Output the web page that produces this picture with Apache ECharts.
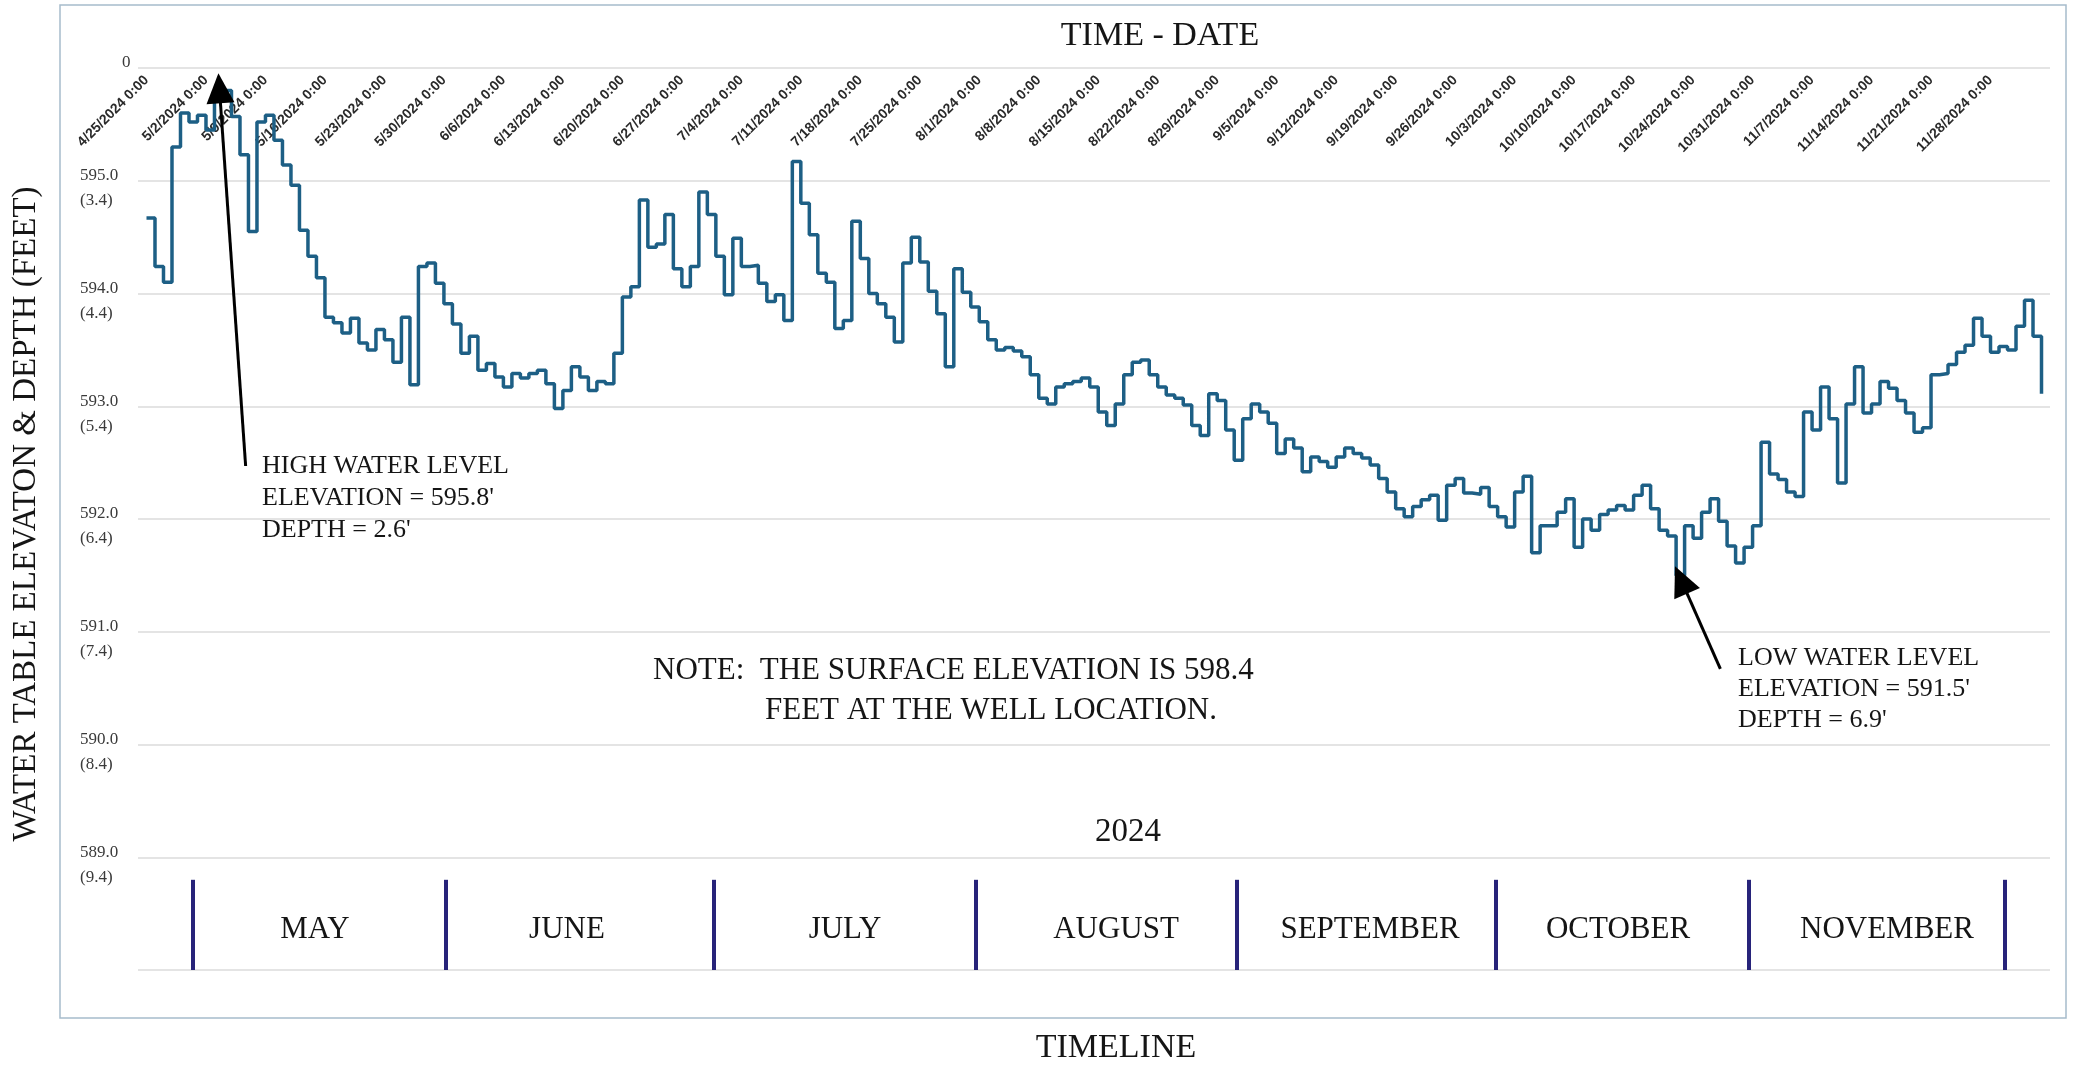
<!DOCTYPE html>
<html>
<head>
<meta charset="utf-8">
<script src="https://cdn.jsdelivr.net/npm/echarts@6/dist/echarts.min.js"></script>
<style>
  html, body { margin: 0; padding: 0; background: #ffffff; }
  #chart { width: 2076px; height: 1065px; }
</style>
</head>
<body>
<div id="chart"></div>
<script>
// ---- DATA (daily water table elevation, ft, one reading per day starting 4/25/2024) ----
const startDate = [2024, 3, 25];
const elevations = [
  594.67, 594.24, 594.10, 595.30, 595.60, 595.52, 595.58, 595.45, 595.80, 595.80,
  595.57, 595.23, 594.55, 595.52, 595.58, 595.36, 595.14, 594.96, 594.56, 594.33,
  594.14, 593.79, 593.74, 593.65, 593.78, 593.56, 593.50, 593.68, 593.59, 593.39,
  593.79, 593.19, 594.24, 594.27, 594.09, 593.91, 593.73, 593.47, 593.62, 593.32,
  593.38, 593.26, 593.17, 593.29, 593.25, 593.29, 593.32, 593.20, 592.98, 593.14,
  593.35, 593.26, 593.14, 593.22, 593.20, 593.47, 593.97, 594.06, 594.83, 594.41,
  594.44, 594.70, 594.22, 594.06, 594.24, 594.90, 594.70, 594.33, 593.99, 594.49,
  594.24, 594.25, 594.09, 593.93, 593.99, 593.76, 595.17, 594.80, 594.52, 594.18,
  594.10, 593.69, 593.76, 594.64, 594.31, 594.00, 593.91, 593.79, 593.57, 594.27,
  594.50, 594.28, 594.02, 593.82, 593.35, 594.22, 594.01, 593.88, 593.75, 593.59,
  593.50, 593.52, 593.49, 593.44, 593.28, 593.07, 593.02, 593.17, 593.20, 593.22,
  593.25, 593.17, 592.95, 592.83, 593.02, 593.28, 593.39, 593.41, 593.28, 593.17,
  593.10, 593.07, 593.01, 592.83, 592.74, 593.11, 593.05, 592.79, 592.52, 592.89,
  593.02, 592.95, 592.85, 592.58, 592.71, 592.63, 592.42, 592.55, 592.51, 592.46,
  592.55, 592.63, 592.58, 592.54, 592.48, 592.36, 592.24, 592.09, 592.02, 592.11,
  592.17, 592.21, 591.99, 592.30, 592.36, 592.23, 592.22, 592.28, 592.11, 592.02,
  591.93, 592.24, 592.38, 591.70, 591.94, 591.94, 592.06, 592.18, 591.75, 592.00,
  591.90, 592.04, 592.08, 592.12, 592.08, 592.21, 592.30, 592.09, 591.90, 591.85,
  591.50, 591.94, 591.83, 592.06, 592.18, 591.98, 591.76, 591.61, 591.75, 591.94,
  592.68, 592.40, 592.35, 592.24, 592.20, 592.95, 592.79, 593.17, 592.89, 592.32,
  593.02, 593.35, 592.94, 593.02, 593.22, 593.16, 593.05, 592.94, 592.77, 592.81,
  593.28, 593.29, 593.37, 593.48, 593.54, 593.78, 593.62, 593.48, 593.53, 593.50,
  593.71, 593.94, 593.62, 593.11
];
const tickLabels = [
  '4/25/2024 0:00', '5/2/2024 0:00', '5/9/2024 0:00', '5/16/2024 0:00', '5/23/2024 0:00',
  '5/30/2024 0:00', '6/6/2024 0:00', '6/13/2024 0:00', '6/20/2024 0:00', '6/27/2024 0:00',
  '7/4/2024 0:00', '7/11/2024 0:00', '7/18/2024 0:00', '7/25/2024 0:00', '8/1/2024 0:00',
  '8/8/2024 0:00', '8/15/2024 0:00', '8/22/2024 0:00', '8/29/2024 0:00', '9/5/2024 0:00',
  '9/12/2024 0:00', '9/19/2024 0:00', '9/26/2024 0:00', '10/3/2024 0:00', '10/10/2024 0:00',
  '10/17/2024 0:00', '10/24/2024 0:00', '10/31/2024 0:00', '11/7/2024 0:00', '11/14/2024 0:00',
  '11/21/2024 0:00', '11/28/2024 0:00'
];
const yTicks = [596, 595, 594, 593, 592, 591, 590, 589, 588];
const surfaceElevation = 598.4;
const months = ['MAY', 'JUNE', 'JULY', 'AUGUST', 'SEPTEMBER', 'OCTOBER', 'NOVEMBER'];
const highLabel = ['HIGH WATER LEVEL', "ELEVATION = 595.8'", "DEPTH = 2.6'"];
const lowLabel = ['LOW WATER LEVEL', "ELEVATION = 591.5'", "DEPTH = 6.9'"];

// ---- helpers: x is measured in days since the start date ----
const t0 = new Date(startDate[0], startDate[1], startDate[2]).getTime();
function dayOf(m, d, h) { return Math.round((new Date(2024, m - 1, d, h || 0).getTime() - t0) / 3600000) / 24; }
function parseLabel(s) {
  const [m, d] = s.split(' ')[0].split('/').map(Number);
  return dayOf(m, d, 0);
}
const seriesData = elevations.map((v, i) => [i, v]);
const tickDays = tickLabels.map(parseLabel);

// month separators (annotation positions on the date axis)
const monthBars = [dayOf(4,30,10), dayOf(5,30,4), dayOf(6,30,17), dayOf(7,31,15), dayOf(8,31,6), dayOf(9,30,20), dayOf(10,30,14), dayOf(11,29,17)];

const serif = 'Liberation Serif, Times New Roman, serif';
const chart = echarts.init(document.getElementById('chart'), null, { renderer: 'canvas' });

const monthLabelX = [315, 567, 845, 1116, 1370, 1618, 1887];

const graphics = [
  { type: 'rect', shape: { x: 60, y: 5, width: 2006, height: 1013 }, style: { fill: 'none', stroke: '#a7bccb', lineWidth: 1.5 }, silent: true },
  { type: 'text', x: 1160, y: 36, style: { text: 'TIME - DATE', font: '34px ' + serif, fill: '#151515', align: 'center', verticalAlign: 'middle' } },
  { type: 'text', x: 26, y: 514, rotation: Math.PI / 2, style: { text: 'WATER TABLE ELEVATON & DEPTH (FEET)', font: '33px ' + serif, fill: '#151515', align: 'center', verticalAlign: 'middle' } },
  { type: 'text', x: 1128, y: 832, style: { text: '2024', font: '33px ' + serif, fill: '#151515', align: 'center', verticalAlign: 'middle' } },
  { type: 'text', x: 1116, y: 1048, style: { text: 'TIMELINE', font: '34px ' + serif, fill: '#151515', align: 'center', verticalAlign: 'middle' } },
  { type: 'text', x: 653, y: 671, style: { text: 'NOTE:  THE SURFACE ELEVATION IS ' + surfaceElevation.toFixed(1), font: '31px ' + serif, fill: '#151515', align: 'left', verticalAlign: 'middle' } },
  { type: 'text', x: 765, y: 711, style: { text: 'FEET AT THE WELL LOCATION.', font: '31px ' + serif, fill: '#151515', align: 'left', verticalAlign: 'middle' } }
];
highLabel.forEach((s, i) => graphics.push({ type: 'text', x: 262, y: 466 + i * 32, style: { text: s, font: '26px ' + serif, fill: '#151515', align: 'left', verticalAlign: 'middle' } }));
lowLabel.forEach((s, i) => graphics.push({ type: 'text', x: 1738, y: 658 + i * 31, style: { text: s, font: '26px ' + serif, fill: '#151515', align: 'left', verticalAlign: 'middle' } }));
months.forEach((s, i) => graphics.push({ type: 'text', x: monthLabelX[i], y: 930, style: { text: s, font: '31px ' + serif, fill: '#151515', align: 'center', verticalAlign: 'middle' } }));

const arrowStyle = { color: '#000000', width: 3, type: 'solid' };
const arrowData = [
  [{ coord: [dayOf(5, 6, 16), 592.47], symbol: 'none', lineStyle: arrowStyle }, { coord: [dayOf(5, 3, 14), 595.82], symbol: 'triangle', symbolSize: [28, 30], itemStyle: { color: '#000000' } }],
  [{ coord: [dayOf(10, 27, 5), 590.67], symbol: 'none', lineStyle: arrowStyle }, { coord: [dayOf(10, 22, 14), 591.46], symbol: 'triangle', symbolSize: [28, 30], itemStyle: { color: '#000000' } }]
];
const barStyle = { color: '#27237a', width: 4, type: 'solid' };
const monthLineData = monthBars.map(x => [
  { coord: [x, 588.80], symbol: 'none', lineStyle: barStyle },
  { coord: [x, 588.0], symbol: 'none' }
]);

const option = {
  backgroundColor: '#ffffff',
  animation: false,
  grid: { left: 138, top: 68, width: 1912, height: 902, containLabel: false },
  xAxis: {
    type: 'value',
    position: 'top',
    min: -1,
    max: 224,
    axisLine: { show: false },
    axisTick: { show: false },
    splitLine: { show: false },
    axisLabel: {
      inside: true,
      rotate: -45,
      margin: 10,
      customValues: tickDays,
      hideOverlap: false,
      fontSize: 14,
      fontWeight: 'bold',
      fontFamily: 'Liberation Sans, Arial, sans-serif',
      color: '#2a2a2a',
      formatter: function (val) {
        let best = 0, bd = Infinity;
        tickDays.forEach((tv, i) => { const d = Math.abs(tv - val); if (d < bd) { bd = d; best = i; } });
        return bd < 0.5 ? tickLabels[best] : '';
      }
    }
  },
  yAxis: {
    type: 'value',
    min: yTicks[yTicks.length - 1],
    max: yTicks[0],
    interval: 1,
    axisLine: { show: false },
    axisTick: { show: false },
    splitLine: { show: true, lineStyle: { color: '#e4e4e4', width: 2 } },
    axisLabel: {
      align: 'left',
      margin: 58,
      fontSize: 17,
      fontFamily: serif,
      color: '#3a3a3a',
      lineHeight: 25,
      padding: [0, 0, 10, 0],
      formatter: function (v) {
        if (Math.abs(v - yTicks[0]) < 1e-6) return '{z|0}';
        if (Math.abs(v - yTicks[yTicks.length - 1]) < 1e-6) return '';
        return '\n' + v.toFixed(1) + '\n(' + (surfaceElevation - v).toFixed(1) + ')';
      },
      rich: { z: { fontSize: 17, fontFamily: serif, color: '#3a3a3a', padding: [0, 0, 0, 42] } }
    }
  },
  graphic: graphics,
  series: [
    {
      type: 'line',
      step: 'end',
      data: seriesData,
      showSymbol: false,
      lineStyle: { color: '#1d5f85', width: 3.5 },
      z: 3,
      markLine: {
        silent: true,
        animation: false,
        symbol: 'none',
        label: { show: false },
        emphasis: { disabled: true },
        data: arrowData.concat(monthLineData)
      }
    }
  ]
};
chart.setOption(option);
</script>
</body>
</html>
